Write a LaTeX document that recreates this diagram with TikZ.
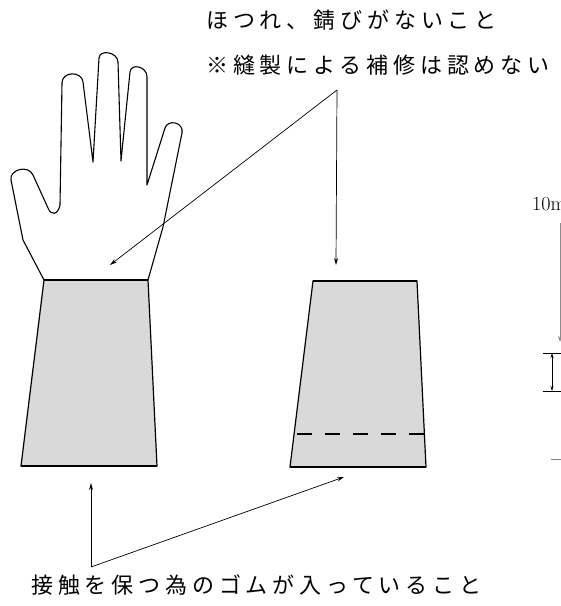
\documentclass[tikz,border=0pt]{standalone}
\usepackage{fontspec}
\newfontfamily\jpfont[LetterSpace=22]{Noto Sans CJK JP}
\usetikzlibrary{arrows.meta,positioning}

\begin{document}
\begin{tikzpicture}[x=1pt,y=-1pt]
\useasboundingbox (0,0) rectangle (561,606);
\tikzset{jptext/.style={anchor=west,inner sep=0pt,text height=0.88em,text depth=0.12em,font=\jpfont\fontsize{22}{26}\selectfont}}

\node[jptext] (fray) at (206,25) {ほつれ、錆びがないこと};
\node[jptext] (repair) at (206,70) {※縫製による補修は認めない};
\node[jptext] (rubber) at (31,590) {接触を保つ為のゴムが入っていること};

\draw[line width=1.1pt, line join=round] (44,280) -- (23,240) -- (11,180)
  .. controls (9,170) and (28,164) .. (33,175) -- (48,208)
  .. controls (51,216) and (58,215) .. (60,205) -- (62,83)
  .. controls (62,71) and (82,71) .. (83,82) -- (93,162) -- (99,58)
  .. controls (99.5,49) and (117.7,52) .. (118,62) -- (121,161) -- (130,72)
  .. controls (130.6,63) and (147,66) .. (147,77) -- (147,185) -- (165,128)
  .. controls (167.7,119) and (184,122) .. (182,133) -- (163,227) -- (148,280);

\filldraw[fill=black!15, line width=1.2pt] (44,280) -- (148,280) -- (157,466) -- (21,466) -- cycle;
\draw[line width=2.4pt] (44,280) -- (148,280);
\draw[line width=2.4pt] (21,466) -- (157,466);

\filldraw[fill=black!15, line width=1.2pt] (313,281) -- (417,281) -- (426,467) -- (290,467) -- cycle;
\draw[line width=2.4pt] (313,281) -- (417,281);
\draw[line width=2.4pt] (290,467) -- (426,467);
\draw[line width=2pt, dash pattern=on 15pt off 13pt] (297,434) -- (425,434);

\coordinate (apex) at (337,90);
\coordinate (glovewrist) at (110,265);
\coordinate (cuffwrist) at (336,265);
\draw[line width=0.7pt,-{Stealth[length=7pt,width=4pt]}] (apex) -- (glovewrist);
\draw[line width=0.7pt,-{Stealth[length=7pt,width=4pt]}] (apex) -- (cuffwrist);

\coordinate (vertex) at (91,567);
\coordinate (glovehem) at (91,483);
\coordinate (cuffhem) at (344,477);
\draw[line width=0.7pt,-{Stealth[length=7pt,width=4pt]}] (vertex) -- (glovehem);
\draw[line width=0.7pt,-{Stealth[length=7pt,width=4pt]}] (vertex) -- (cuffhem);

\node[anchor=base west,inner sep=0pt,font=\fontsize{20}{24}\selectfont] (tenmm) at (532,210) {10mm};
\coordinate (dimtop) at (560,223);
\coordinate (dimtip) at (560,342);
\draw[black!45, line width=0.7pt,-{Stealth[length=6pt,width=4pt]}] (dimtop) -- (dimtip);
\coordinate (gapa) at (552,353);
\coordinate (gapb) at (552,391);
\draw[line width=0.9pt] (543,353) -- (566,353);
\draw[line width=0.9pt] (543,391) -- (566,391);
\draw[line width=0.8pt,{Stealth[length=5pt,width=3pt]}-{Stealth[length=5pt,width=3pt]}] (gapa) -- (gapb);
\draw[black!50, line width=1pt] (551,459) -- (566,459);

\end{tikzpicture}
\end{document}
